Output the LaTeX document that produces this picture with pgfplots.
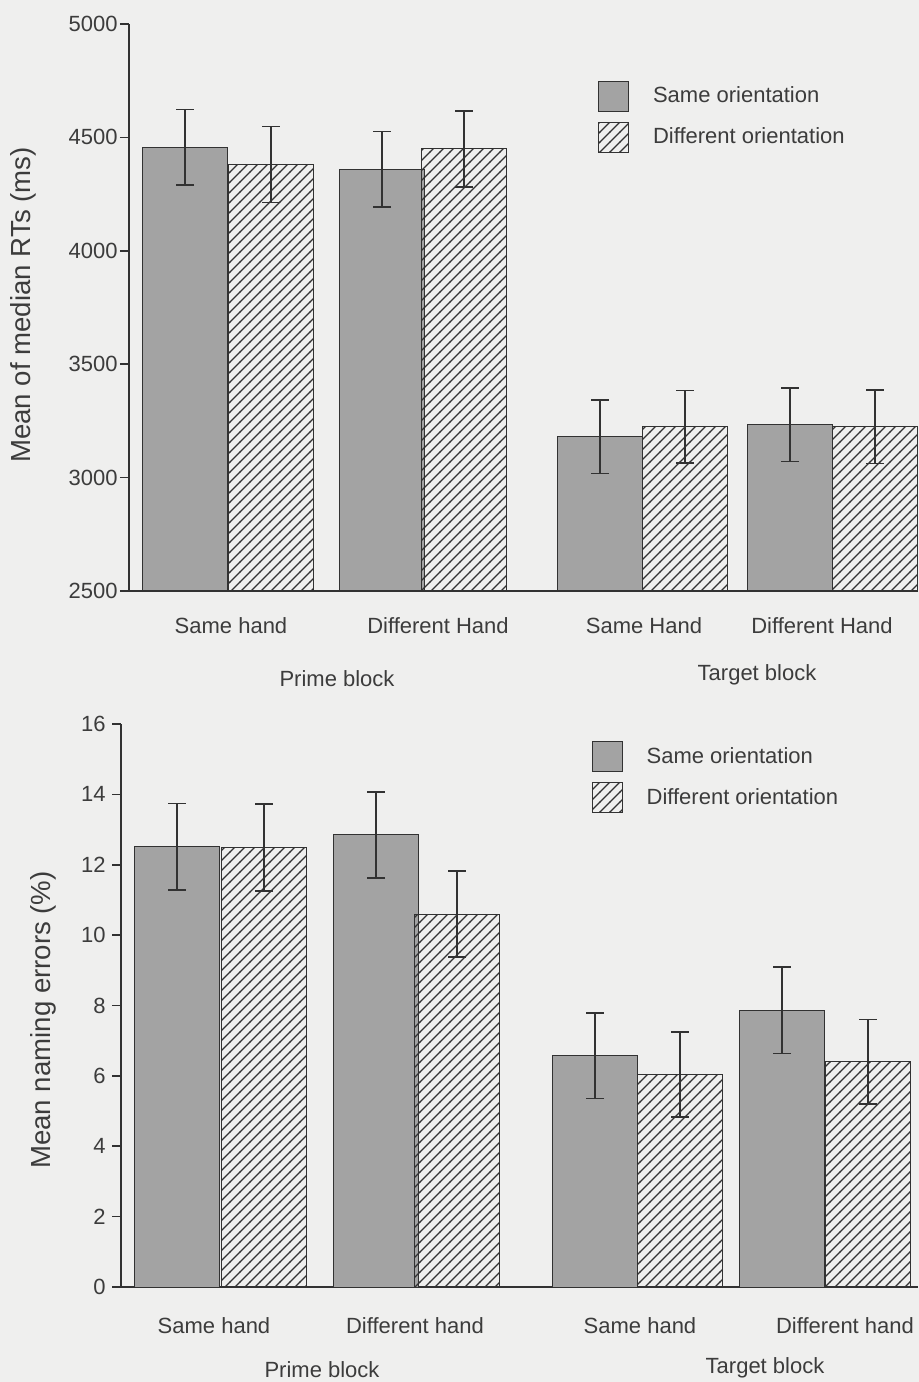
\documentclass[border=0pt]{standalone}
\usepackage{fontspec}
\setmainfont{Liberation Sans}
\usepackage{pgfplots}
\pgfplotsset{compat=1.18}
\usetikzlibrary{patterns}
\definecolor{bgc}{RGB}{239,239,238}
\definecolor{barc}{RGB}{163,163,163}
\definecolor{linec}{RGB}{50,50,50}
\definecolor{txtc}{RGB}{60,60,60}

\pgfdeclarepatternformonly{hatchne}{\pgfpoint{-1pt}{-1pt}}{\pgfpoint{6pt}{6pt}}{\pgfpoint{5pt}{5pt}}{%
  \pgfsetlinewidth{0.6pt}%
  \pgfpathmoveto{\pgfpoint{-0.1pt}{-0.1pt}}%
  \pgfpathlineto{\pgfpoint{5.1pt}{5.1pt}}%
  \pgfusepath{stroke}}

\pgfplotsset{
  panel/.style={
    scale only axis, anchor=south west, clip=false,
    axis x line*=bottom, axis y line*=left,
    axis line style={line width=0.8pt, draw=linec, -},
    tick align=outside, major tick length=4.5pt,
    ytick style={line width=0.8pt, draw=linec},
    xtick style={draw=none},
    ticklabel style={font=\fontsize{11}{13}\selectfont, text=txtc},
    /pgf/number format/assume math mode=true,
    /pgf/number format/set thousands separator={},
    legend style={draw=none, fill=none, font=\fontsize{11}{13}\selectfont, text=txtc,
      inner sep=0pt, row sep=5pt,
      /tikz/every odd column/.append style={column sep=12pt},
      nodes={inner sep=0pt, anchor=west, text=txtc}},
    legend cell align=left,
    legend image code/.code={\draw[##1, line width=0.5pt] (0pt,-7.5pt) rectangle (15pt,7.5pt);},
  },
  samebar/.style={ybar, bar width=85, bar shift=0pt, fill=barc, draw=linec, line width=0.5pt,
    error bars/.cd, y dir=both, y explicit,
    error bar style={line width=0.75pt, draw=linec},
    error mark options={rotate=90, mark size=4.5pt, line width=0.75pt, draw=linec}},
  diffbar/.style={ybar, bar width=85, bar shift=0pt, draw=linec, line width=0.5pt,
    pattern=hatchne, pattern color=linec,
    error bars/.cd, y dir=both, y explicit,
    error bar style={line width=0.75pt, draw=linec},
    error mark options={rotate=90, mark size=4.5pt, line width=0.75pt, draw=linec}},
}

\begin{document}
\begin{tikzpicture}
\fill[bgc] (0,0) rectangle (459.5pt,691pt);
\useasboundingbox (0,0) rectangle (459.5pt,691pt);

% ---------- top panel ----------
\begin{axis}[panel,
  at={(64.5pt,395.5pt)}, width=394.5pt, height=283.5pt,
  xmin=129, xmax=918, ymin=2500, ymax=5000,
  ytick={2500,3000,3500,4000,4500,5000},
  yticklabel style={inner sep=1pt},
  xtick={231,438,644,822},
  xticklabels={Same hand, Different Hand, Same Hand, Different Hand},
  xticklabel style={yshift=-5.3pt},
  legend style={at={(axis description cs:0.594,0.901)}, anchor=north west},
]
\addplot[samebar] coordinates {
  (185,4456) +- (0,167)
  (382,4359) +- (0,167)
  (600,3180) +- (0,163)
  (790,3233) +- (0,161)
};
\addlegendentry{Same orientation}
\addplot[diffbar] coordinates {
  (271,4381) +- (0,167)
  (464,4449) +- (0,167)
  (685,3224) +- (0,160)
  (875,3224) +- (0,162)
};
\addlegendentry{Different orientation}
\end{axis}

% ---------- bottom panel ----------
\begin{axis}[panel,
  at={(60.5pt,47.5pt)}, width=398.5pt, height=281.5pt,
  xmin=121, xmax=918, ymin=0, ymax=16,
  ytick={0,2,4,6,8,10,12,14,16},
  yticklabel style={inner sep=3pt},
  xtick={214,415,640,845},
  xticklabels={Same hand, Different hand, Same hand, Different hand},
  xticklabel style={yshift=-7.3pt},
  legend style={at={(axis description cs:0.59,0.97)}, anchor=north west},
]
\addplot[samebar] coordinates {
  (177,12.51) +- (0,1.23)
  (376,12.85) +- (0,1.22)
  (595,6.57) +- (0,1.21)
  (782,7.86) +- (0,1.23)
};
\addlegendentry{Same orientation}
\addplot[diffbar] coordinates {
  (264,12.49) +- (0,1.23)
  (457,10.60) +- (0,1.22)
  (680,6.04) +- (0,1.21)
  (868,6.40) +- (0,1.20)
};
\addlegendentry{Different orientation}
\end{axis}

% axis titles and group labels
\node[rotate=90, font=\fontsize{13.8}{16}\selectfont, text=txtc] at (11.5pt,538.5pt) {Mean of median RTs (ms)};
\node[rotate=90, font=\fontsize{13.8}{16}\selectfont, text=txtc] at (21.5pt,181pt) {Mean naming errors (\%)};
\node[font=\fontsize{11}{13}\selectfont, text=txtc] at (168.5pt,351.5pt) {Prime block};
\node[font=\fontsize{11}{13}\selectfont, text=txtc] at (378.5pt,353.5pt) {Target block};
\node[font=\fontsize{11}{13}\selectfont, text=txtc] at (161pt,6pt) {Prime block};
\node[font=\fontsize{11}{13}\selectfont, text=txtc] at (382.5pt,7pt) {Target block};
\end{tikzpicture}
\end{document}
